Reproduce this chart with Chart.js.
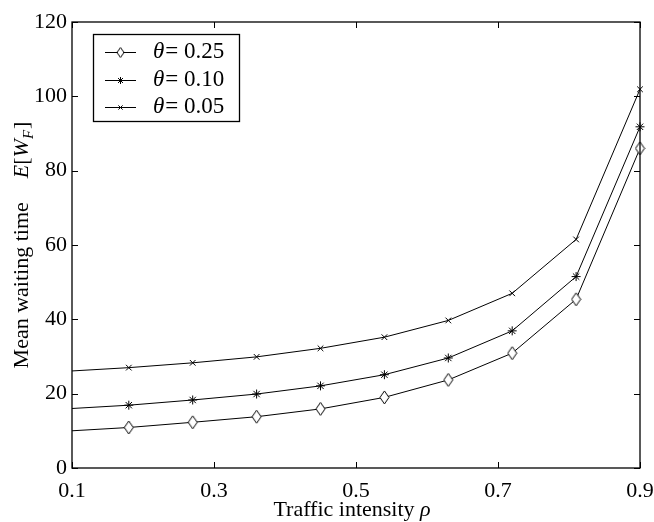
<!DOCTYPE html>
<html lang="en">
<head>
<meta charset="UTF-8">
<title>Mean waiting time vs traffic intensity</title>
<script src="https://cdn.jsdelivr.net/npm/chart.js"></script>
<style>
  body { margin: 0; background: #fff; }
</style>
</head>
<body>
<canvas id="waitChart" width="654" height="522"></canvas>
<script>
// traffic intensity rho (first point sits just left of the axis and gets clipped)
const rho = [0.09, 0.18, 0.27, 0.36, 0.45, 0.54, 0.63, 0.72, 0.81, 0.90];
// mean waiting time E[W_F] for each theta
const waitTheta025 = [9.9, 10.9, 12.3, 13.8, 15.9, 19.0, 23.7, 30.9, 45.4, 86.0];
const waitTheta010 = [15.9, 16.9, 18.3, 19.9, 22.1, 25.1, 29.6, 36.9, 51.5, 91.8];
const waitTheta005 = [26.0, 27.0, 28.3, 29.9, 32.2, 35.2, 39.7, 47.0, 61.5, 101.9];
const thetaLabels = ['0.25', '0.10', '0.05'];
const xTicks = [0.1, 0.3, 0.5, 0.7, 0.9];
const yTicks = [0, 20, 40, 60, 80, 100, 120];

const FONT = "'Liberation Serif', 'Times New Roman', serif";

// tall matlab-like diamond marker
function diamond(w, h) {
    const c = document.createElement('canvas');
    c.width = w + 2;
    c.height = h + 2;
    const g = c.getContext('2d');
    g.beginPath();
    g.moveTo(c.width / 2, 1);
    g.lineTo(c.width - 1, c.height / 2);
    g.lineTo(c.width / 2, c.height - 1);
    g.lineTo(1, c.height / 2);
    g.closePath();
    g.fillStyle = '#fff';
    g.fill();
    g.strokeStyle = '#000';
    g.lineWidth = 1;
    g.stroke();
    return c;
}
const bigDiamond = diamond(9, 13);
const smallDiamond = diamond(7, 10);

function series(values, style, radius, legendStyle, legendRadius) {
    return {
        data: rho.map((x, i) => ({ x: x, y: values[i] })),
        borderColor: '#000',
        borderWidth: 1,
        pointStyle: style,
        pointRadius: radius,
        pointBorderColor: '#000',
        pointBackgroundColor: '#fff',
        pointBorderWidth: 1,
        legendStyle: legendStyle,
        legendRadius: legendRadius,
        tension: 0,
        clip: { left: 0, top: 10, right: 10, bottom: 0 }
    };
}

// box round the plot + inward ticks on all four sides
const frame = {
    id: 'frame',
    afterDatasetsDraw(chart) {
        const { ctx, chartArea: a, scales } = chart;
        ctx.save();
        ctx.strokeStyle = '#000';
        ctx.lineWidth = 1.3;
        ctx.strokeRect(a.left, a.top, a.right - a.left, a.bottom - a.top);
        ctx.lineWidth = 1;
        ctx.beginPath();
        xTicks.forEach(v => {
            const px = Math.round(scales.x.getPixelForValue(v)) + 0.5;
            ctx.moveTo(px, a.bottom); ctx.lineTo(px, a.bottom - 6);
            ctx.moveTo(px, a.top); ctx.lineTo(px, a.top + 6);
        });
        yTicks.forEach(v => {
            const py = Math.round(scales.y.getPixelForValue(v)) + 0.5;
            ctx.moveTo(a.left, py); ctx.lineTo(a.left + 6, py);
            ctx.moveTo(a.right, py); ctx.lineTo(a.right - 6, py);
        });
        ctx.stroke();
        ctx.restore();
    }
};

// runs: [text, italic, subscript, extra gap after]
function runWidth(ctx, runs) {
    let total = 0;
    runs.forEach(r => {
        ctx.font = (r[1] ? 'italic ' : '') + (r[2] ? '15px ' : '22px ') + FONT;
        total += ctx.measureText(r[0]).width + (r[3] || 0);
    });
    return total;
}
function drawRuns(ctx, runs, x, y) {
    let cx = x - runWidth(ctx, runs) / 2;
    runs.forEach(r => {
        ctx.font = (r[1] ? 'italic ' : '') + (r[2] ? '15px ' : '22px ') + FONT;
        ctx.fillText(r[0], cx, y + (r[2] ? 5 : 0));
        cx += ctx.measureText(r[0]).width + (r[3] || 0);
    });
}

const titles = {
    id: 'titles',
    afterDraw(chart) {
        const ctx = chart.ctx;
        ctx.save();
        ctx.fillStyle = '#000';
        ctx.textBaseline = 'alphabetic';
        ctx.textAlign = 'left';
        drawRuns(ctx, [['Traffic intensity ', false], ['\u03c1', true]], 352, 516);
        ctx.translate(28, 245);
        ctx.rotate(-Math.PI / 2);
        drawRuns(ctx, [['Mean waiting time', false, false, 24], ['E', true], ['[', false], ['W', true], ['F', true, true, 1], [']', false]], 0, 0);
        ctx.restore();
    }
};

const legendBox = {
    id: 'legendBox',
    afterDraw(chart) {
        const ctx = chart.ctx;
        const left = 93, top = 34, w = 146, h = 87;
        ctx.save();
        ctx.fillStyle = '#fff';
        ctx.fillRect(left, top, w, h);
        ctx.strokeStyle = '#000';
        ctx.lineWidth = 1.3;
        ctx.strokeRect(left + 0.5, top + 0.5, w, h);
        chart.data.datasets.forEach((ds, i) => {
            const y = top + 18 + i * 27.5;
            ctx.lineWidth = 1;
            ctx.strokeStyle = '#000';
            ctx.beginPath();
            ctx.moveTo(105, Math.round(y) + 0.5);
            ctx.lineTo(136, Math.round(y) + 0.5);
            ctx.stroke();
            ctx.fillStyle = '#fff';
            Chart.helpers.drawPoint(ctx, {
                pointStyle: ds.legendStyle,
                radius: ds.legendRadius,
                borderWidth: 1,
                rotation: 0
            }, 120.5, Math.round(y) + 0.5);
            ctx.fillStyle = '#000';
            ctx.textBaseline = 'middle';
            ctx.font = 'italic 23px ' + FONT;
            ctx.fillText('\u03b8', 153, y);
            const tx = 153 + ctx.measureText('\u03b8').width + 1;
            ctx.font = '23px ' + FONT;
            ctx.fillText('= ' + thetaLabels[i], tx, y);
        });
        ctx.restore();
    }
};

new Chart(document.getElementById('waitChart'), {
    type: 'line',
    data: {
        datasets: [
            series(waitTheta025, bigDiamond, 6, smallDiamond, 5),
            series(waitTheta010, 'star', 4.5, 'star', 3.5),
            series(waitTheta005, 'crossRot', 4, 'crossRot', 3)
        ]
    },
    options: {
        responsive: false,
        animation: false,
        layout: { padding: { top: 22, right: 14, left: 0, bottom: 0 } },
        plugins: {
            legend: { display: false },
            tooltip: { enabled: false }
        },
        scales: {
            x: {
                type: 'linear',
                min: 0.1,
                max: 0.9,
                grid: { display: false, drawTicks: false },
                border: { display: false },
                afterBuildTicks: s => { s.ticks = xTicks.map(v => ({ value: v })); },
                afterFit: s => {
                    s.height = 54;
                    s.paddingLeft = 0;
                    s.paddingRight = 0;
                },
                ticks: {
                    color: '#000',
                    font: { family: FONT, size: 22 },
                    padding: 10,
                    maxRotation: 0,
                    autoSkip: false,
                    callback: v => v.toFixed(1)
                }
            },
            y: {
                min: 0,
                max: 120,
                grid: { display: false, drawTicks: false },
                border: { display: false },
                afterBuildTicks: s => { s.ticks = yTicks.map(v => ({ value: v })); },
                afterFit: s => {
                    s.width = 72;
                    s.paddingTop = 0;
                    s.paddingBottom = 0;
                },
                ticks: {
                    color: '#000',
                    font: { family: FONT, size: 22 },
                    padding: 5,
                    autoSkip: false
                }
            }
        }
    },
    plugins: [frame, titles, legendBox]
});
</script>
</body>
</html>
